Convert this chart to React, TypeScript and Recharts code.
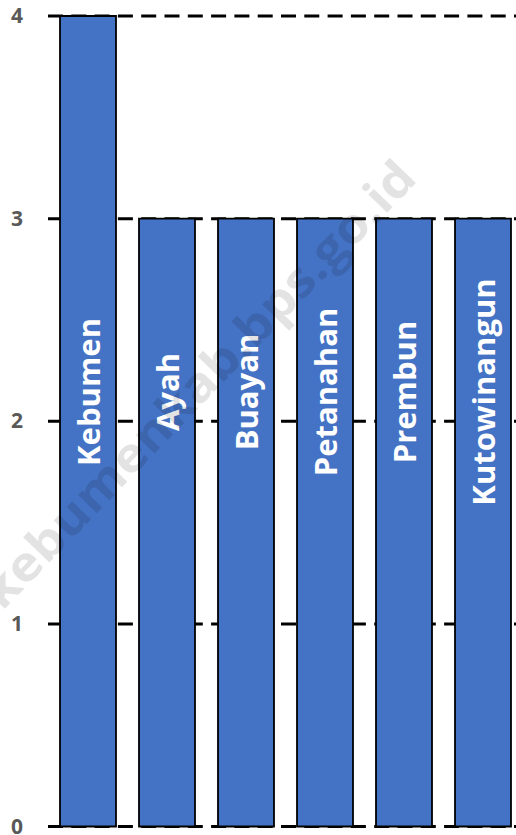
import React from 'react';
import { BarChart, Bar, XAxis, YAxis, CartesianGrid, LabelList } from 'recharts';

const kecamatan = ['Kebumen', 'Ayah', 'Buayan', 'Petanahan', 'Prembun', 'Kutowinangun'];
const jumlah = [4, 3, 3, 3, 3, 3];
const yTicks = [0, 1, 2, 3, 4];

const data = kecamatan.map((name, i) => ({ name, value: jumlah[i] }));

const FONT = '"Open Sans", "Noto Sans", sans-serif';
const LABEL_CENTER_Y = 392;

const renderTick = (props: any) => {
	const { y, payload } = props;
	return (
		<text x={23} y={y} dy={7} textAnchor="end" fill="#595959"
			style={{ fontFamily: FONT, fontSize: '21px', fontWeight: 700 }}>
			{String(payload.value)}
		</text>
	);
};

const renderBarLabel = (props: any) => {
	const { x, width, value } = props;
	const cx = Number(x) + Number(width) / 2;
	return (
		<text
			transform={`translate(${cx + 11.5},${LABEL_CENTER_Y}) rotate(-90)`}
			textAnchor="middle"
			fill="#fff"
			style={{ fontFamily: FONT, fontSize: '31px', fontWeight: 700 }}>
			{value}
		</text>
	);
};

export default function App() {
	return (
		<div style={{ position: 'absolute', left: 0, top: 0, width: 516, height: 835, overflow: 'hidden', background: '#fff' }}>
			<BarChart
				width={530}
				height={835}
				data={data}
				margin={{ top: 16, right: 8, bottom: 8.5, left: 0 }}
				barSize={56}
			>
				<CartesianGrid vertical={false} stroke="#000" strokeWidth={3} strokeDasharray="15 8.3" />
				<XAxis dataKey="name" hide />
				<YAxis
					width={48}
					domain={[0, 4]}
					ticks={yTicks}
					interval={0}
					axisLine={false}
					tickLine={false}
					tick={renderTick}
				/>
				<Bar dataKey="value" fill="#4472C4" stroke="#000" strokeWidth={1.8} isAnimationActive={false}>
					<LabelList dataKey="name" content={renderBarLabel} />
				</Bar>
			</BarChart>
			{/* watermark */}
			<svg width={516} height={835} style={{ position: 'absolute', left: 0, top: 0, pointerEvents: 'none' }}>
				<text
					transform="translate(197,383) rotate(-46)"
					textAnchor="middle"
					dominantBaseline="central"
					fill="#000"
					fillOpacity={0.11}
					textLength={600}
					lengthAdjust="spacingAndGlyphs"
					style={{ fontFamily: FONT, fontSize: '48px', fontWeight: 700 }}>
					kebumenkab.bps.go.id
				</text>
			</svg>
		</div>
	);
}
